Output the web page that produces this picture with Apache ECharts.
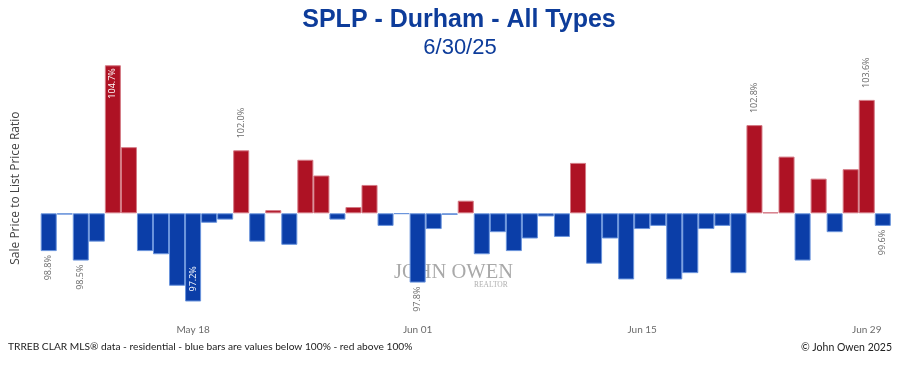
<!DOCTYPE html>
<html>
<head>
<meta charset="utf-8">
<script src="https://cdn.jsdelivr.net/npm/echarts@6/dist/echarts.min.js"></script>
<style>
  html, body { margin: 0; padding: 0; background: #ffffff; }
  #chart { width: 898px; height: 365px; }
</style>
</head>
<body>
<div id="chart"></div>
<script>
// ---- data ----
const categories = [
  'May 09','May 10','May 11','May 12','May 13','May 14','May 15','May 16','May 17','May 18',
  'May 19','May 20','May 21','May 22','May 23','May 24','May 25','May 26','May 27','May 28',
  'May 29','May 30','May 31','Jun 01','Jun 02','Jun 03','Jun 04','Jun 05','Jun 06','Jun 07',
  'Jun 08','Jun 09','Jun 10','Jun 11','Jun 12','Jun 13','Jun 14','Jun 15','Jun 16','Jun 17',
  'Jun 18','Jun 19','Jun 20','Jun 21','Jun 22','Jun 23','Jun 24','Jun 25','Jun 26','Jun 27',
  'Jun 28','Jun 29','Jun 30'
];
const ratios = [
  98.8, 99.96, 98.5, 99.1, 104.7, 102.1, 98.8, 98.7, 97.7, 97.2,
  99.7, 99.8, 102.0, 99.1, 100.1, 99.0, 101.7, 101.2, 99.8, 100.2,
  100.9, 99.6, 99.98, 97.8, 99.5, 99.95, 100.4, 98.7, 99.4, 98.8,
  99.2, 99.9, 99.25, 101.6, 98.4, 99.2, 97.9, 99.5, 99.6, 97.9,
  98.1, 99.5, 99.6, 98.1, 102.8, 100.03, 101.8, 98.5, 101.1, 99.4,
  101.4, 103.6, 99.6
];
const tickLabels = ['May 18', 'Jun 01', 'Jun 15', 'Jun 29'];
const labeledDays = ['May 09', 'May 11', 'May 13', 'May 18', 'May 21', 'Jun 01', 'Jun 22', 'Jun 29', 'Jun 30'];
const insideLabelDays = ['May 13', 'May 18'];
const baseline = 100;

// ---- styles ----
const RED = '#ae1224';
const BLUE = '#0b3ea8';
const RED_EDGE = '#d47a85';
const BLUE_EDGE = '#6a94dc';

const seriesData = ratios.map((v, i) => {
  const d = v - baseline;
  const up = d >= 0;
  const item = {
    value: d,
    itemStyle: {
      color: up ? RED : BLUE,
      borderColor: up ? RED_EDGE : BLUE_EDGE,
      borderWidth: 1
    }
  };
  const day = categories[i];
  if (labeledDays.includes(day)) {
    const inside = insideLabelDays.includes(day);
    let position, align, distance;
    if (up) {
      position = inside ? 'insideTop' : 'top';
      align = inside ? 'right' : 'left';
      distance = inside ? 3 : 12;
    } else {
      position = inside ? 'insideBottom' : 'bottom';
      align = inside ? 'left' : 'right';
      distance = inside ? 10 : 4;
    }
    item.label = {
      show: true,
      position: position,
      distance: distance,
      rotate: 90,
      align: align,
      verticalAlign: 'middle',
      formatter: v.toFixed(1) + '%',
      fontFamily: 'Open Sans',
      fontSize: 9,
      color: inside ? '#ffffff' : '#6a6a6a'
    };
  }
  return item;
});

const chart = echarts.init(document.getElementById('chart'), null, { renderer: 'canvas' });
chart.setOption({
  animation: false,
  backgroundColor: '#ffffff',
  title: [
    {
      text: 'SPLP - Durham - All Types',
      left: 454, top: 3, textAlign: 'center',
      textStyle: { fontFamily: 'Liberation Sans, Arial', fontWeight: 'bold', fontSize: 25, color: '#0d3c9a' }
    },
    {
      text: '6/30/25',
      left: 455, top: 32, textAlign: 'center',
      textStyle: { fontFamily: 'Liberation Sans, Arial', fontWeight: 'normal', fontSize: 22, color: '#0d3c9a' }
    }
  ],
  grid: { left: 40.7, right: 7.2, top: 55.8, bottom: 44.6, containLabel: false },
  xAxis: {
    type: 'category',
    data: categories,
    axisLine: { show: false },
    axisTick: { show: false },
    splitLine: { show: false },
    axisLabel: {
      interval: (i, v) => tickLabels.includes(v),
      margin: 4,
      fontFamily: 'Lato',
      fontSize: 10,
      color: '#6a6a6a'
    }
  },
  yAxis: {
    type: 'value',
    min: -3.4,
    max: 5.0,
    axisLine: { show: false },
    axisTick: { show: false },
    axisLabel: { show: false },
    splitLine: { show: false },
    name: 'Sale Price to List Price Ratio',
    nameLocation: 'middle',
    nameGap: 19,
    nameTextStyle: { fontFamily: 'Open Sans', fontSize: 12, color: '#444444' }
  },
  graphic: [
    {
      type: 'text', z: -10, left: 394, top: 262,
      style: { text: 'JOHN OWEN', fontFamily: 'Liberation Serif', fontSize: 20.5, fill: '#a9a9a9' }
    },
    {
      type: 'text', z: -10, left: 474, top: 281,
      style: { text: 'REALTOR', fontFamily: 'Liberation Serif', fontSize: 7.5, fill: '#b0b0b0' }
    },
    {
      type: 'text', left: 8, top: 342,
      style: { text: 'TRREB CLAR MLS\u00ae data - residential - blue bars are values below 100% - red above 100%',
               fontFamily: 'Lato', fontSize: 10.2, fill: '#222222' }
    },
    {
      type: 'text', right: 6, top: 342,
      style: { text: '\u00a9 John Owen 2025', fontFamily: 'Lato', fontSize: 10.5, fill: '#222222' }
    }
  ],
  series: [
    {
      type: 'bar',
      data: seriesData,
      barCategoryGap: '0%',
      z: 2
    }
  ]
});
</script>
</body>
</html>
